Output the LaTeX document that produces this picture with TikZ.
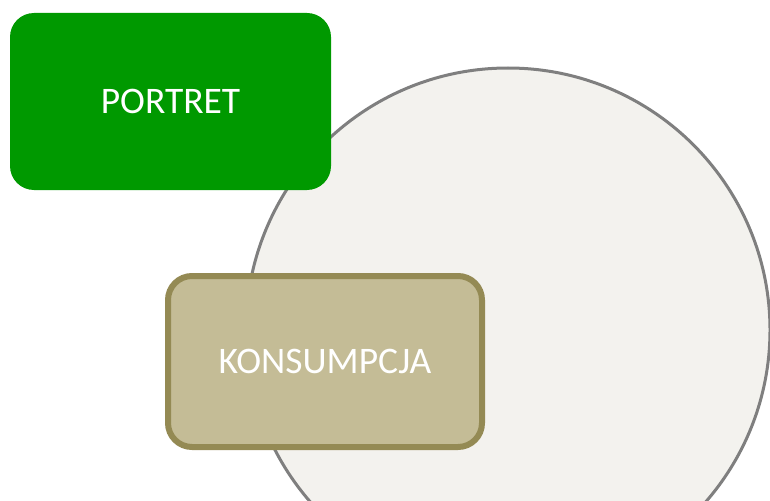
\documentclass[tikz,border=0pt]{standalone}
\usepackage{fontspec}
\setmainfont{Carlito}
\usepackage{xcolor}
\usepackage{tikz}
\usetikzlibrary{positioning}
\definecolor{portretgreen}{HTML}{009900}
\definecolor{konsfill}{HTML}{C4BC96}
\definecolor{konsline}{HTML}{948A54}
\definecolor{circfill}{HTML}{F3F2EE}
\definecolor{circline}{HTML}{7F7F7F}

\begin{document}
\begin{tikzpicture}[x=1pt,y=-1pt,
	box/.style={rounded corners=24pt,text=white,font=\fontsize{37.5}{44}\selectfont}]
	\useasboundingbox (0,0) rectangle (770,500);
	\fill[circfill] (508,330) circle (262pt);
	\draw[circline,line width=3pt] (508,330) circle (262pt);
	\node[box,fill=portretgreen,minimum width=321pt,minimum height=177pt] (portret) at (170.5,101.5) {PORTRET};
	\node[box,fill=konsfill,draw=konsline,line width=6pt,minimum width=314pt,minimum height=171pt] (konsumpcja) at (325,361.5) {KONSUMPCJA};
\end{tikzpicture}
\end{document}
